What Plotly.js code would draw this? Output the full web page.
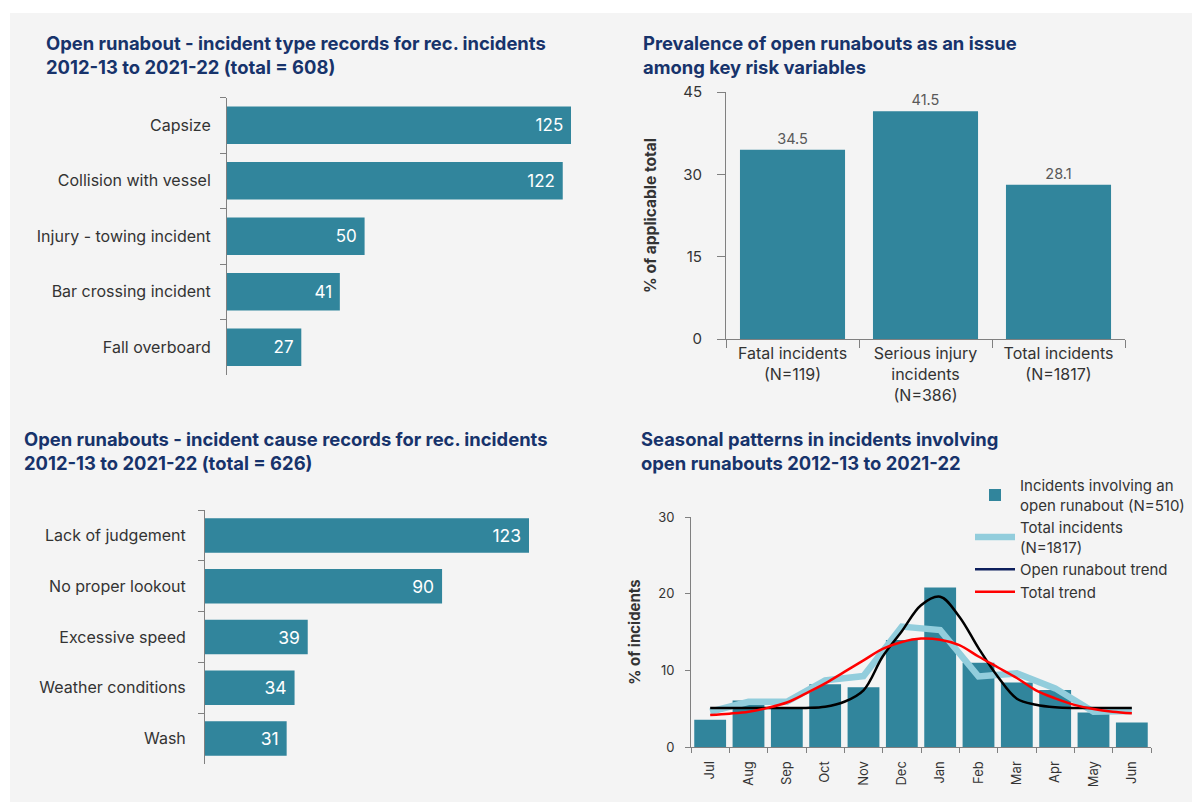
<!DOCTYPE html>
<html><head><meta charset="utf-8">
<script src="https://cdn.plot.ly/plotly-3.0.1.min.js"></script>
<style>html,body{margin:0;padding:0;background:#fff;overflow:hidden;width:1192px;height:803px}#chart{overflow:hidden}</style>
</head><body><div id="chart" style="width:1192px;height:803px"></div>
<script>
// ---- data ----
const typeCats = ["Capsize", "Collision with vessel", "Injury - towing incident", "Bar crossing incident", "Fall overboard"];
const typeVals = [125, 122, 50, 41, 27];

const causeCats = ["Lack of judgement", "No proper lookout", "Excessive speed", "Weather conditions", "Wash"];
const causeVals = [123, 90, 39, 34, 31];

const prevCats = ["Fatal incidents<br>(N=119)", "Serious injury<br>incidents<br>(N=386)", "Total incidents<br>(N=1817)"];
const prevVals = [34.5, 41.5, 28.1];

const months = ["Jul", "Aug", "Sep", "Oct", "Nov", "Dec", "Jan", "Feb", "Mar", "Apr", "May", "Jun"];
const monthPos = [0, 1, 2, 3, 4, 5, 6, 7, 8, 9, 10, 11];
const runaboutPct = [3.55, 6.05, 5.0, 8.2, 7.8, 13.95, 20.8, 11.0, 8.4, 7.45, 4.5, 3.2];
const totalPct = [4.6, 5.9, 5.9, 8.7, 9.25, 15.7, 15.25, 9.2, 9.6, 7.65, 4.6, 4.7];

const trendPos = [0, 0.5, 1, 1.5, 2, 2.5, 3, 3.5, 4, 4.5, 5, 5.5, 6, 6.5, 7, 7.5, 8, 8.5, 9, 9.5, 10, 10.5, 11];
const runaboutTrend = [5.08, 5.08, 5.08, 5.08, 5.08, 5.1, 5.25, 5.9, 7.4, 11.8, 15.1, 18.5, 19.6, 17.0, 12.9, 9.2, 6.3, 5.5, 5.17, 5.08, 5.08, 5.08, 5.08];
const totalTrend = [4.17, 4.35, 4.6, 5.1, 5.8, 7.0, 8.3, 9.8, 11.3, 12.8, 13.7, 14.15, 14.0, 13.3, 11.8, 10.4, 9.0, 7.4, 6.35, 5.5, 4.95, 4.6, 4.4];

// ---- styles ----
const W = 1192, H = 803;
const px = v => v / W;
const py = v => 1 - v / H;
const FONT = "Inter, Roboto, 'Liberation Sans', sans-serif";
const BAR = "#31859c";
const LIGHT = "#92cddc";
const NAVY = "#17336b";
const AXIS = "#808080";
const TXT = "#333333";
const PAD = "\u00a0";

const traces = [
  {type: "bar", orientation: "h", x: typeVals, y: typeCats, xaxis: "x", yaxis: "y",
   marker: {color: BAR}, text: typeVals.map(v => v + PAD), textposition: "inside", insidetextanchor: "end",
   textfont: {color: "#ffffff", size: 17, family: FONT}, showlegend: false, hoverinfo: "x+y"},
  {type: "bar", orientation: "h", x: causeVals, y: causeCats, xaxis: "x2", yaxis: "y2",
   marker: {color: BAR}, text: causeVals.map(v => v + PAD), textposition: "inside", insidetextanchor: "end",
   textfont: {color: "#ffffff", size: 17.5, family: FONT}, showlegend: false, hoverinfo: "x+y"},
  {type: "bar", x: prevCats, y: prevVals, xaxis: "x3", yaxis: "y3", width: 0.79,
   marker: {color: BAR}, text: prevVals.map(v => v.toFixed(1)), textposition: "outside",
   textfont: {color: "#595959", size: 14.5, family: FONT}, cliponaxis: false, showlegend: false},
  {type: "bar", x: monthPos, y: runaboutPct, xaxis: "x4", yaxis: "y4", width: 0.83,
   marker: {color: BAR}, name: "Incidents involving an<br>open runabout (N=510)"},
  {type: "scatter", mode: "lines", x: monthPos, y: totalPct, xaxis: "x4", yaxis: "y4",
   line: {color: LIGHT, width: 6.5}, name: "Total incidents<br>(N=1817)"},
  {type: "scatter", mode: "lines", x: trendPos, y: runaboutTrend, xaxis: "x4", yaxis: "y4",
   line: {color: "#000000", width: 2.5, shape: "spline", smoothing: 1}, showlegend: false, name: "Open runabout trend"},
  {type: "scatter", mode: "lines", x: [null], y: [null], xaxis: "x4", yaxis: "y4",
   line: {color: "#0d1f5c", width: 2.5}, name: "Open runabout trend"},
  {type: "scatter", mode: "lines", x: trendPos, y: totalTrend, xaxis: "x4", yaxis: "y4",
   line: {color: "#ff0000", width: 2.5, shape: "spline", smoothing: 1}, name: "Total trend"}
];

const hiddenX = {visible: false, fixedrange: true};
const catY = (d0, d1, standoff) => ({
  domain: [py(d1), py(d0)], autorange: "reversed", type: "category",
  showline: true, linecolor: AXIS, linewidth: 1, ticks: "outside", tickson: "boundaries",
  ticklen: 6, tickcolor: AXIS, showgrid: false, zeroline: false,
  tickfont: {size: 16, color: TXT, family: FONT}, ticklabelstandoff: standoff
});

const titleAnn = (x, y, text) => ({
  xref: "paper", yref: "paper", x: px(x), y: py(y), xanchor: "left", yanchor: "top",
  align: "left", showarrow: false, text: "<b>" + text + "</b>",
  font: {size: 18.4, color: NAVY, family: FONT}
});

const layout = {
  width: W, height: H,
  margin: {l: 0, r: 0, t: 0, b: 0},
  paper_bgcolor: "#ffffff", plot_bgcolor: "rgba(0,0,0,0)",
  font: {family: FONT, color: TXT},
  bargap: 0.32,
  showlegend: true,
  legend: {x: px(970), y: py(469), xanchor: "left", yanchor: "top", bgcolor: "rgba(0,0,0,0)",
           font: {size: 15, color: TXT, family: FONT}, tracegroupgap: 0, itemwidth: 40},
  shapes: [
    {type: "rect", xref: "paper", yref: "paper", x0: px(10), x1: 1, y0: py(802), y1: py(13),
     fillcolor: "#f4f4f4", line: {width: 0}, layer: "below"}
  ],
  annotations: [
    titleAnn(44, 30, "Open runabout - incident type records for rec. incidents<br>2012-13 to 2021-22 (total = 608)"),
    titleAnn(641, 30, "Prevalence of open runabouts as an issue<br>among key risk variables"),
    titleAnn(22, 426, "Open runabouts - incident cause records for rec. incidents<br>2012-13 to 2021-22 (total = 626)"),
    titleAnn(639, 426, "Seasonal patterns in incidents involving<br>open runabouts 2012-13 to 2021-22")
  ],
  // top-left
  xaxis: Object.assign({domain: [px(227), px(571)], range: [0, 125], anchor: "y"}, hiddenX),
  yaxis: Object.assign(catY(97.5, 375, 12), {anchor: "x"}),
  // bottom-left
  xaxis2: Object.assign({domain: [px(205), px(529)], range: [0, 123], anchor: "y2"}, hiddenX),
  yaxis2: Object.assign(catY(510, 764, 15), {anchor: "x2"}),
  // top-right
  xaxis3: {domain: [px(726), px(1125)], anchor: "y3", type: "category",
           showline: true, linecolor: AXIS, ticks: "outside", tickson: "boundaries", ticklen: 8, tickcolor: AXIS,
           showgrid: false, zeroline: false, tickfont: {size: 16, color: TXT, family: FONT}},
  yaxis3: {domain: [py(339), py(92)], anchor: "x3", range: [0, 45], tickvals: [0, 15, 30, 45],
           showline: true, linecolor: AXIS, ticks: "outside", ticklen: 8, tickcolor: AXIS, ticklabelstandoff: 12,
           showgrid: false, zeroline: false, tickfont: {size: 15, color: TXT, family: FONT},
           title: {text: "<b>% of applicable total</b>", font: {size: 15.5, color: TXT, family: FONT}, standoff: 22}},
  // bottom-right
  xaxis4: {domain: [px(691), px(1151)], anchor: "y4", range: [-0.5, 11.5],
           tickvals: monthPos, ticktext: months, tickangle: -90, ticks: "", ticklabelstandoff: 8,
           minor: {tick0: -0.5, dtick: 1, ticks: "outside", ticklen: 5, tickcolor: AXIS, showgrid: false},
           showline: true, linecolor: AXIS, showgrid: false, zeroline: false,
           tickfont: {size: 13, color: TXT, family: FONT}},
  yaxis4: {domain: [py(747), py(517)], anchor: "x4", range: [0, 30], tickvals: [0, 10, 20, 30],
           showline: true, linecolor: AXIS, ticks: "outside", ticklen: 5, tickcolor: AXIS, ticklabelstandoff: 8,
           showgrid: false, zeroline: false, tickfont: {size: 13, color: TXT, family: FONT},
           title: {text: "<b>% of incidents</b>", font: {size: 15, color: TXT, family: FONT}, standoff: 13}}
};

Plotly.newPlot("chart", traces, layout, {staticPlot: true, displayModeBar: false});
</script>
</body></html>
